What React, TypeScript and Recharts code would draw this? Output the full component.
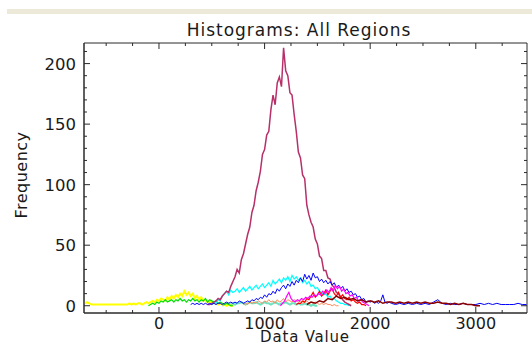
import React from "react";
import { LineChart, Line, XAxis, YAxis, ReferenceArea } from "recharts";

// ---- axis definitions ----
const X_DOMAIN: [number, number] = [-710, 3485];
const Y_DOMAIN: [number, number] = [-6, 217];
const xTicks = [-500, -250, 0, 250, 500, 750, 1000, 1250, 1500, 1750, 2000, 2250, 2500, 2750, 3000, 3250];
const xMajor = [0, 1000, 2000, 3000];
const yTicks = [0, 10, 20, 30, 40, 50, 60, 70, 80, 90, 100, 110, 120, 130, 140, 150, 160, 170, 180, 190, 200, 210];
const yMajor = [0, 50, 100, 150, 200];

// ---- histogram series (bin start, bin width, frequencies) ----
const yellowStart = -700;
const yellowStep = 20;
const yellowValues = [
  2, 3, 2, 1, 1, 1, 1, 1, 1, 1, 1, 1, 1, 1, 1, 1, 1, 1, 1, 1, 1, 2, 1, 2, 1, 2, 2, 1, 2, 3,
  2, 3, 4, 3, 5, 4, 6, 5, 4, 7, 5, 8, 6, 9, 7, 10, 8, 12, 9, 11, 8, 10, 6, 8, 5, 7, 4, 5, 3, 4,
  2, 3, 2, 1, 2, 1, 1, 0, 1, 0, 0,
];

const greenStart = -100;
const greenStep = 20;
const greenValues = [
  0, 1, 2, 1, 3, 2, 4, 3, 5, 3, 4, 5, 3, 5, 4, 6, 4, 5, 3, 5, 4, 6, 4, 5, 3, 5, 4, 6, 3, 5,
  4, 3, 4, 2, 3, 2, 1, 2, 1, 0, 0,
];

const aquaStart = 600;
const aquaStep = 20;
const aquaValues = [
  0, 1, 1, 2, 1, 2, 1, 2, 2, 3, 2, 1, 2, 3, 2, 2, 3, 2, 1, 2, 3, 2, 2, 1, 2, 3, 2, 1, 2, 2,
  3, 2, 1, 2, 2, 1, 2, 1, 1, 2, 1, 1, 0, 1, 0, 0,
];

const salmonStart = 800;
const salmonStep = 20;
const salmonValues = [
  1, 2, 1, 3, 2, 3, 2, 4, 3, 2, 4, 3, 5, 3, 4, 2, 5, 3, 4, 6, 3, 5, 4, 3, 5, 4, 3, 4, 2, 3,
  4, 2, 3, 2, 3, 2, 1, 2, 1, 2, 1, 1, 0, 1, 0, 0,
];

const cyanStart = 500;
const cyanStep = 20;
const cyanValues = [
  1, 3, 2, 5, 4, 8, 10, 12, 9, 13, 11, 12, 14, 11, 13, 15, 12, 14, 16, 13, 15, 17, 14, 16, 18, 15, 17, 19, 16, 21,
  18, 20, 22, 19, 23, 21, 24, 20, 25, 22, 24, 21, 23, 19, 21, 18, 20, 16, 17, 14, 15, 12, 11, 9, 10, 7, 8, 5, 6, 4,
  3, 2, 2, 1, 1, 0,
];

const maroonStart = 460;
const maroonStep = 20;
const maroonValues = [
  1, 1, 2, 3, 4, 6, 5, 8, 10, 12, 11, 16, 20, 24, 30, 27, 38, 43, 51, 59, 65, 77, 83, 95, 102, 111, 125, 129, 141, 144,
  162, 174, 166, 184, 189, 181, 213, 194, 190, 176, 174, 158, 144, 127, 122, 108, 105, 83, 75, 69, 65, 55, 51, 41, 39, 29, 29, 23, 22, 17,
  15, 11, 10, 7, 5, 3, 2, 1, 0,
];

const blueStart = 300;
const blueStep = 20;
const blueValues = [
  1, 2, 1, 2, 1, 2, 1, 2, 1, 2, 1, 2, 1, 2, 2, 1, 2, 3, 2, 3, 2, 3, 2, 4, 3, 2, 3, 4, 3, 5,
  4, 6, 5, 7, 6, 9, 7, 10, 9, 12, 10, 14, 12, 15, 17, 14, 18, 16, 20, 17, 21, 19, 23, 20, 26, 22, 25, 21, 27, 23,
  24, 20, 22, 19, 21, 18, 20, 17, 19, 15, 17, 14, 16, 12, 14, 11, 12, 9, 10, 7, 8, 5, 6, 3, 4, 3, 4, 2, 3, 2,
  4, 9, 3, 2, 3, 2,
];

const blueTailStart = 2200;
const blueTailStep = 40;
const blueTailValues = [
  2, 1, 2, 1, 2, 1, 2, 1, 2, 1, 3, 5, 2, 1, 2, 1, 1, 2, 1, 1, 1, 2, 1, 2, 1, 2, 1, 1, 1, 1,
  2, 1, 1,
];

const redStart = 1300;
const redStep = 20;
const redValues = [
  1, 2, 2, 4, 3, 6, 5, 8, 11, 7, 9, 12, 8, 10, 13, 9, 12, 14, 10, 8, 11, 7, 9, 6, 5, 7, 4, 5, 3, 2,
  3, 1, 1, 0,
];

const magentaStart = 1150;
const magentaStep = 20;
const magentaValues = [
  0, 2, 4, 8, 11, 6, 4, 3, 5, 4, 6, 5, 7, 6, 8, 7, 9, 8, 10, 9, 12, 10, 13, 11, 15, 12, 17, 14, 16, 12,
  14, 10, 11, 8, 9, 6, 7, 4, 5, 3, 2, 1, 0,
];

const darkRedStart = 1400;
const darkRedStep = 40;
const darkRedValues = [
  1, 3, 2, 4, 3, 6, 5, 8, 6, 7, 5, 6, 4, 5, 3, 4, 3, 4, 2, 3, 3, 2, 3, 2, 3, 2, 3, 2, 3, 2,
  2, 3, 2, 2, 1, 2, 1, 2, 1, 1, 0, 0,
];

type Series = { name: string; start: number; step: number; values: number[]; color: string; width: number };

const SERIES: Series[] = [
  { name: "aqua", start: aquaStart, step: aquaStep, values: aquaValues, color: "#6fe3bf", width: 2 },
  { name: "salmon", start: salmonStart, step: salmonStep, values: salmonValues, color: "#ff8a5c", width: 1 },
  { name: "yellow", start: yellowStart, step: yellowStep, values: yellowValues, color: "#ffff00", width: 2 },
  { name: "green", start: greenStart, step: greenStep, values: greenValues, color: "#00e000", width: 1.2 },
  { name: "cyan", start: cyanStart, step: cyanStep, values: cyanValues, color: "#00ffff", width: 1.2 },
  { name: "maroon", start: maroonStart, step: maroonStep, values: maroonValues, color: "#b8306a", width: 1.5 },
  { name: "blue", start: blueStart, step: blueStep, values: blueValues, color: "#0000ff", width: 1 },
  { name: "blueTail", start: blueTailStart, step: blueTailStep, values: blueTailValues, color: "#0000ff", width: 1 },
  { name: "red", start: redStart, step: redStep, values: redValues, color: "#ff0000", width: 1.2 },
  { name: "magenta", start: magentaStart, step: magentaStep, values: magentaValues, color: "#ff00ff", width: 1.2 },
  { name: "darkred", start: darkRedStart, step: darkRedStep, values: darkRedValues, color: "#8b0000", width: 1.5 },
];

const toPoints = (s: Series) => s.values.map((v, i) => ({ x: s.start + i * s.step, y: v }));

// ---- layout ----
const W = 532;
const H = 345;
const MARGIN = { top: 43, right: 5, bottom: 2, left: 24 };
const Y_AXIS_W = 60;
const X_AXIS_H = 30;
const PLOT_W = W - MARGIN.left - MARGIN.right - Y_AXIS_W; // 443
const PLOT_H = H - MARGIN.top - MARGIN.bottom - X_AXIS_H; // 270
const AXIS_COLOR = "#2a2a2a";
const FONT = "'DejaVu Sans', Verdana, sans-serif";
const TEXT_COLOR = "#1a1a1a";

const XTick = (props: any) => {
  const { x, y, payload } = props;
  const v = payload.value;
  const major = xMajor.includes(v);
  const len = major ? 6 : 3;
  return (
    <g>
      <line x1={x} x2={x} y1={y} y2={y - len} stroke={AXIS_COLOR} strokeWidth={1} />
      <line x1={x} x2={x} y1={y - PLOT_H} y2={y - PLOT_H + len} stroke={AXIS_COLOR} strokeWidth={1} />
      {major && (
        <text x={x} y={y + 16} textAnchor="middle" fontFamily={FONT} fontSize={16} fill={TEXT_COLOR}>
          {v}
        </text>
      )}
    </g>
  );
};

const YTick = (props: any) => {
  const { x, y, payload } = props;
  const v = payload.value;
  const major = yMajor.includes(v);
  const len = major ? 6 : 3;
  return (
    <g>
      <line x1={x} x2={x + len} y1={y} y2={y} stroke={AXIS_COLOR} strokeWidth={1} />
      <line x1={x + PLOT_W} x2={x + PLOT_W - len} y1={y} y2={y} stroke={AXIS_COLOR} strokeWidth={1} />
      {major && (
        <text x={x - 8} y={y + 6} textAnchor="end" fontFamily={FONT} fontSize={16.5} fill={TEXT_COLOR}>
          {v}
        </text>
      )}
    </g>
  );
};

export default function App() {
  return (
    <div style={{ position: "absolute", left: 0, top: 0, width: W, height: H, background: "#ffffff", overflow: "hidden" }}>
      <div style={{ position: "absolute", left: 7, top: 9, width: W - 7, height: 5, background: "#ece9d8" }} />
      <LineChart width={W} height={H} margin={MARGIN}>
        <XAxis
          type="number"
          dataKey="x"
          domain={X_DOMAIN}
          ticks={xTicks}
          interval={0}
          allowDataOverflow
          tickSize={0}
          tickMargin={0}
          height={X_AXIS_H}
          axisLine={{ stroke: AXIS_COLOR, strokeWidth: 1 }}
          tick={(p: any) => <XTick {...p} />}
        />
        <YAxis
          type="number"
          domain={Y_DOMAIN}
          ticks={yTicks}
          interval={0}
          allowDataOverflow
          tickSize={0}
          tickMargin={0}
          width={Y_AXIS_W}
          axisLine={{ stroke: AXIS_COLOR, strokeWidth: 1 }}
          tick={(p: any) => <YTick {...p} />}
        />
        <ReferenceArea
          x1={X_DOMAIN[0]}
          x2={X_DOMAIN[1]}
          y1={Y_DOMAIN[0]}
          y2={Y_DOMAIN[1]}
          fill="none"
          fillOpacity={0}
          stroke={AXIS_COLOR}
          strokeWidth={1}
        />
        {SERIES.map((s) => (
          <Line
            key={s.name}
            data={toPoints(s)}
            dataKey="y"
            type="linear"
            stroke={s.color}
            strokeWidth={s.width}
            dot={false}
            activeDot={false}
            isAnimationActive={false}
          />
        ))}
      </LineChart>
      <svg width={W} height={H} style={{ position: "absolute", left: 0, top: 0, pointerEvents: "none" }}>
        <text x={299} y={36} textAnchor="middle" fontFamily={FONT} fontSize={17} letterSpacing={1} fill={TEXT_COLOR}>
          Histograms: All Regions
        </text>
        <text
          transform="translate(27,175) rotate(-90)"
          textAnchor="middle"
          fontFamily={FONT}
          fontSize={16}
          letterSpacing={0.5}
          fill={TEXT_COLOR}
        >
          Frequency
        </text>
        <text x={305} y={342} textAnchor="middle" fontFamily={FONT} fontSize={15} letterSpacing={0.8} fill={TEXT_COLOR}>
          Data Value
        </text>
      </svg>
    </div>
  );
}
